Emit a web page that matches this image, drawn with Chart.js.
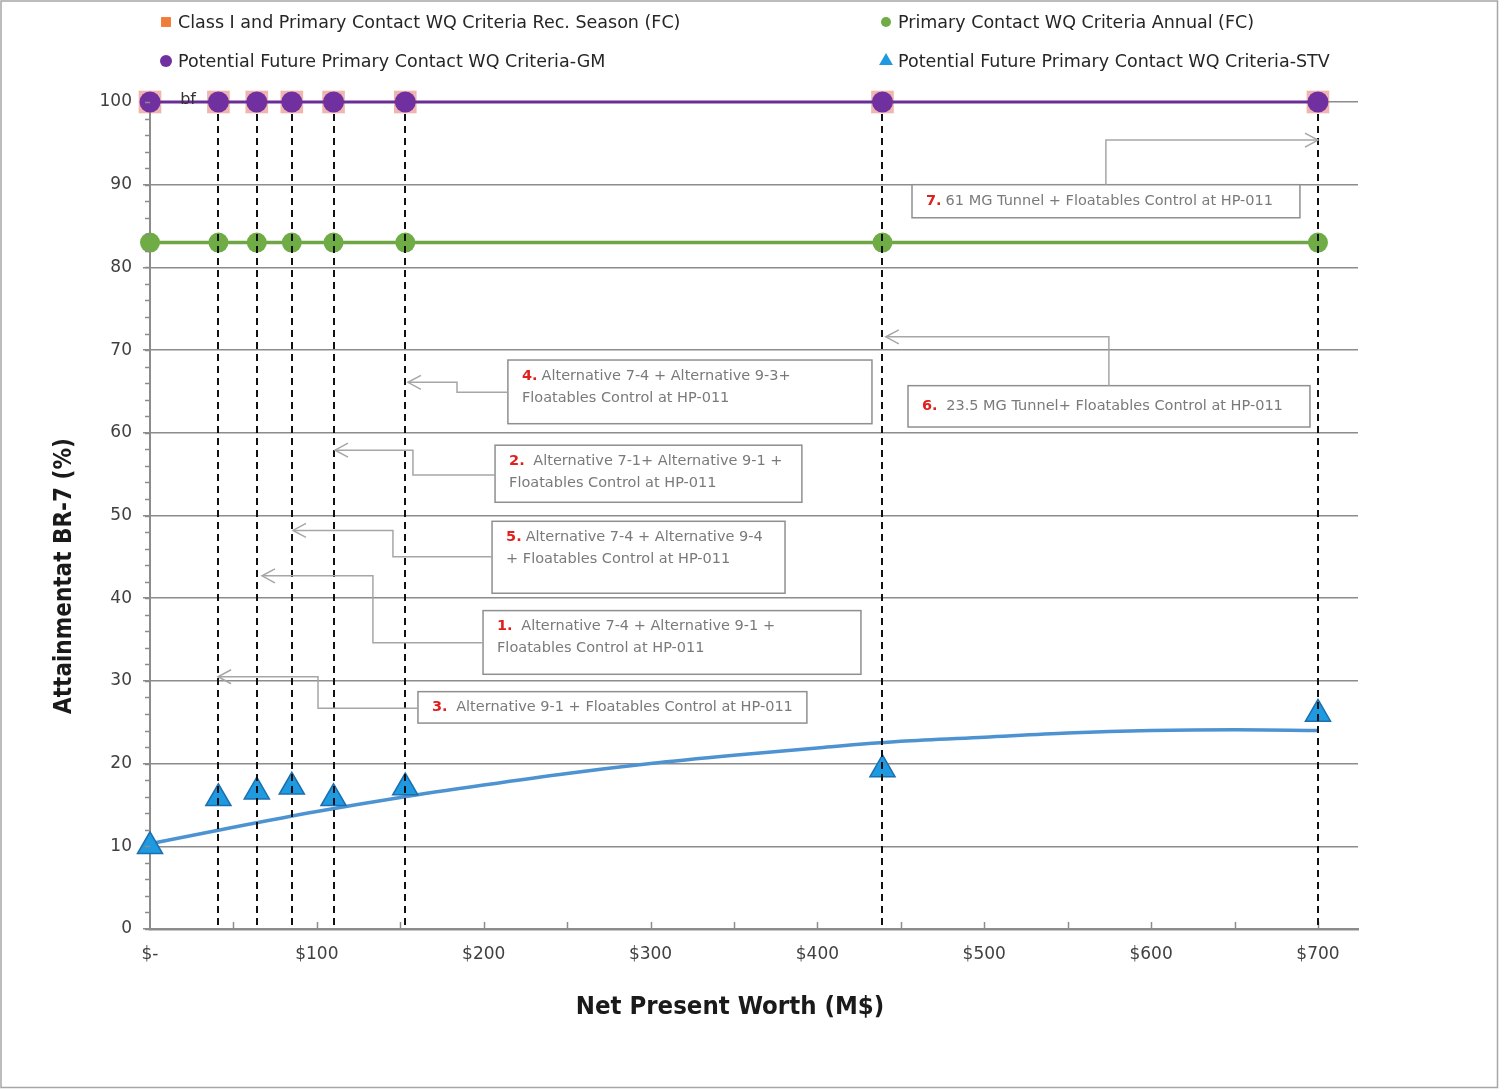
<!DOCTYPE html>
<html>
<head>
<meta charset="utf-8">
<title>Attainment at BR-7 vs Net Present Worth</title>
<script src="https://cdn.jsdelivr.net/npm/chart.js@4.4.1/dist/chart.umd.min.js"></script>
<style>
  html, body { margin: 0; padding: 0; background: #fff; }
  #wrap { width: 1499px; height: 1089px; }
</style>
</head>
<body>
<div id="wrap"><canvas id="chart"></canvas></div>
<script>
// ===== DATA =====
const npw = [0, 41, 64, 85, 110, 153, 439, 700];          // Net Present Worth (M$)
const recSeason = [100, 100, 100, 100, 100, 100, 100, 100];
const annual = [83, 83, 83, 83, 83, 83, 83, 83];
const futureGM = [100, 100, 100, 100, 100, 100, 100, 100];
const futureSTV = [10.0, 15.8, 16.6, 17.2, 15.8, 17.1, 19.3, 26.0];
const trendX = [0, 50, 100, 150, 200, 250, 300, 350, 400, 450, 500, 550, 600, 650, 700];
const trendY = [10.3, 12.3, 14.2, 15.9, 17.4, 18.8, 20.0, 21.0, 21.9, 22.7, 23.2, 23.7, 24.0, 24.1, 24.0];
const xTicks = [0, 100, 200, 300, 400, 500, 600, 700];
const yTicks = [0, 10, 20, 30, 40, 50, 60, 70, 80, 90, 100];
const seriesNames = [
  "Class I and Primary Contact WQ Criteria Rec. Season (FC)",
  "Primary Contact WQ Criteria Annual (FC)",
  "Potential Future Primary Contact WQ Criteria-GM",
  "Potential Future Primary Contact WQ Criteria-STV"
];

// callout boxes: box = [x1, yTop, x2, yBottom] in data units, path ends at the arrow tip
const notes = [
  { num: "7.", lines: ["61 MG Tunnel + Floatables Control at HP-011"], box: [456.7, 90.0, 689.2, 86.0],
    path: [[572.9, 90.0], [572.9, 95.4], [700, 95.4]] },
  { num: "6.", lines: [" 23.5 MG Tunnel+ Floatables Control at HP-011"], box: [454.3, 65.7, 695.2, 60.7],
    path: [[574.7, 65.7], [574.7, 71.6], [441, 71.6]] },
  { num: "4.", lines: ["Alternative 7-4 + Alternative 9-3+", "Floatables Control at HP-011"], box: [214.5, 68.8, 432.7, 61.1],
    path: [[214.5, 64.9], [184, 64.9], [184, 66.1], [154.6, 66.1]] },
  { num: "2.", lines: [" Alternative 7-1+ Alternative 9-1 +", "Floatables Control at HP-011"], box: [206.8, 58.5, 390.7, 51.6],
    path: [[206.8, 54.9], [157.6, 54.9], [157.6, 57.9], [110.9, 57.9]] },
  { num: "5.", lines: ["Alternative 7-4 + Alternative 9-4", "+ Floatables Control at HP-011"], box: [205, 49.3, 380.6, 40.6],
    path: [[205, 45.0], [145.6, 45.0], [145.6, 48.2], [85.7, 48.2]] },
  { num: "1.", lines: [" Alternative 7-4 + Alternative 9-1 +", "Floatables Control at HP-011"], box: [199.6, 38.5, 426.1, 30.8],
    path: [[199.6, 34.6], [133.6, 34.6], [133.6, 42.7], [67.1, 42.7]] },
  { num: "3.", lines: [" Alternative 9-1 + Floatables Control at HP-011"], box: [160.6, 28.7, 393.7, 24.9],
    path: [[160.6, 26.7], [100.7, 26.7], [100.7, 30.5], [40.8, 30.5]] }
];

const pts = (xs, ys) => xs.map((x, i) => ({ x: x, y: ys[i] }));
const FONT = "'DejaVu Sans', sans-serif";
const FONT_C = "'DejaVu Sans Condensed', 'DejaVu Sans', sans-serif";

// ===== EXTRA DRAWING (legend, drop lines, callouts, titles) =====
const extras = {
  id: "extras",
  afterDatasetsDraw(chart) {
    const ctx = chart.ctx;
    const xs = chart.scales.x, ys = chart.scales.y;
    const area = chart.chartArea;
    ctx.save();

    // minor tick marks
    ctx.strokeStyle = "#8c8c8c";
    ctx.lineWidth = 1.5;
    for (let v = 0; v <= 100; v += 2) {
      const y = Math.round(ys.getPixelForValue(v)) + 0.5;
      ctx.beginPath(); ctx.moveTo(area.left - 5, y); ctx.lineTo(area.left, y); ctx.stroke();
    }
    for (let v = 50; v <= 700; v += 50) {
      const x = Math.round(xs.getPixelForValue(v)) + 0.5;
      ctx.beginPath(); ctx.moveTo(x, area.bottom - 7); ctx.lineTo(x, area.bottom + 1); ctx.stroke();
    }

    // drop lines
    ctx.strokeStyle = "#111";
    ctx.lineWidth = 2;
    ctx.setLineDash([7, 5]);
    npw.forEach((v, i) => {
      if (v === 0) return;
      const x = Math.round(xs.getPixelForValue(v));
      ctx.beginPath();
      ctx.moveTo(x, ys.getPixelForValue(futureGM[i]) + 12);
      ctx.lineTo(x, area.bottom);
      ctx.stroke();
    });
    ctx.setLineDash([]);

    // callouts
    notes.forEach(n => {
      const x1 = xs.getPixelForValue(n.box[0]), y1 = ys.getPixelForValue(n.box[1]);
      const x2 = xs.getPixelForValue(n.box[2]), y2 = ys.getPixelForValue(n.box[3]);
      ctx.fillStyle = "#fff";
      ctx.fillRect(x1, y1, x2 - x1, y2 - y1);
      ctx.strokeStyle = "#8f8f8f";
      ctx.lineWidth = 1.5;
      ctx.strokeRect(x1, y1, x2 - x1, y2 - y1);

      ctx.strokeStyle = "#a6a6a6";
      ctx.lineWidth = 1.5;
      ctx.beginPath();
      n.path.forEach((p, i) => {
        const px = xs.getPixelForValue(p[0]), py = ys.getPixelForValue(p[1]);
        if (i === 0) ctx.moveTo(px, py); else ctx.lineTo(px, py);
      });
      ctx.stroke();
      const a = n.path[n.path.length - 1], b = n.path[n.path.length - 2];
      const ax = xs.getPixelForValue(a[0]), ay = ys.getPixelForValue(a[1]);
      const dir = xs.getPixelForValue(a[0]) > xs.getPixelForValue(b[0]) ? -1 : 1;
      ctx.beginPath();
      ctx.moveTo(ax + dir * 13, ay - 7);
      ctx.lineTo(ax, ay);
      ctx.lineTo(ax + dir * 13, ay + 7);
      ctx.stroke();

      ctx.textBaseline = "middle";
      ctx.textAlign = "left";
      const tx = x1 + 14;
      let ty = n.lines.length === 1 ? (y1 + y2) / 2 : y1 + 16;
      n.lines.forEach((line, i) => {
        let x = tx;
        ctx.font = "14.5px " + FONT;
        if (i === 0) {
          ctx.font = "bold 14.5px " + FONT;
          ctx.fillStyle = "#e0201c";
          ctx.fillText(n.num, x, ty);
          x += ctx.measureText(n.num).width + 4;
          ctx.font = "14.5px " + FONT;
        }
        ctx.fillStyle = "#7a7a7a";
        ctx.fillText(line, x, ty);
        ty += 22;
      });
    });

    // stray label
    ctx.font = "16px " + FONT;
    ctx.fillStyle = "#333";
    ctx.textAlign = "center";
    ctx.textBaseline = "middle";
    ctx.fillText("bf", xs.getPixelForValue(22.8), ys.getPixelForValue(100) - 2);
    ctx.restore();
  },
  afterDraw(chart) {
    const ctx = chart.ctx;
    ctx.save();
    // legend (2 columns)
    const slots = [[166, 22], [886, 22], [166, 61], [886, 61]];
    ctx.font = "17.5px " + FONT;
    ctx.textBaseline = "middle";
    ctx.textAlign = "left";
    seriesNames.forEach((name, i) => {
      const ds = chart.data.datasets[i];
      const [x, y] = slots[i];
      ctx.fillStyle = ds.legendColor || ds.pointBackgroundColor;
      ctx.strokeStyle = ds.legendColor || ds.pointBackgroundColor;
      Chart.helpers.drawPoint(ctx, { pointStyle: ds.pointStyle, radius: ds.legendRadius, rotation: 0, borderWidth: 0 }, x, y);
      ctx.fillStyle = "#262626";
      ctx.fillText(name, x + 12, y + 1);
    });

    // axis titles
    ctx.fillStyle = "#1a1a1a";
    ctx.textAlign = "center";
    ctx.font = "bold 25.5px " + FONT_C;
    ctx.fillText("Net Present Worth (M$)", 730, 1007);
    ctx.translate(65, 576);
    ctx.rotate(-Math.PI / 2);
    ctx.font = "bold 24px " + FONT_C;
    ctx.fillText("Attainmentat BR-7 (%)", 0, 0);
    ctx.restore();

    // frame
    ctx.save();
    ctx.strokeStyle = "#a6a6a6";
    ctx.lineWidth = 1.5;
    ctx.strokeRect(1, 1, chart.width - 2.5, chart.height - 2.5);
    ctx.restore();
  }
};

// ===== CHART =====
const ctx = document.getElementById("chart");
new Chart(ctx, {
  type: "scatter",
  data: {
    datasets: [
      {
        label: seriesNames[0],
        data: pts(npw, recSeason),
        showLine: false,
        pointStyle: "rect",
        pointRadius: 16,
        pointBackgroundColor: "rgba(226, 120, 110, 0.55)",
        pointBorderWidth: 0,
        legendColor: "#f07c3a",
        legendRadius: 7,
        order: 5,
        clip: false
      },
      {
        label: seriesNames[1],
        data: pts(npw, annual),
        showLine: true,
        borderColor: "#6fa544",
        borderWidth: 3.5,
        pointStyle: "circle",
        pointRadius: 10,
        pointBackgroundColor: "#6fac46",
        pointBorderColor: "#6fac46",
        pointBorderWidth: 0,
        legendRadius: 5,
        order: 4,
        clip: false
      },
      {
        label: seriesNames[2],
        data: pts(npw, futureGM),
        showLine: true,
        borderColor: "#6b2d95",
        borderWidth: 3,
        pointStyle: "circle",
        pointRadius: 10.5,
        pointBackgroundColor: "#7030a0",
        pointBorderColor: "#7030a0",
        pointBorderWidth: 0,
        legendRadius: 6,
        order: 3,
        clip: false
      },
      {
        label: seriesNames[3],
        data: pts(npw, futureSTV),
        showLine: false,
        pointStyle: "triangle",
        pointRadius: 14.5,
        pointBackgroundColor: "#1f9ae0",
        pointBorderColor: "#1b6fae",
        pointBorderWidth: 1.5,
        legendRadius: 8,
        order: 0,
        clip: false
      },
      {
        label: "trend",
        data: pts(trendX, trendY),
        showLine: true,
        borderColor: "#4d93d2",
        borderWidth: 3.5,
        cubicInterpolationMode: "monotone",
        pointRadius: 0,
        order: 1,
        clip: false
      }
    ]
  },
  options: {
    responsive: true,
    maintainAspectRatio: false,
    animation: false,
    layout: { padding: { top: 102, right: 141, bottom: 0, left: 0 } },
    plugins: { legend: { display: false }, tooltip: { enabled: false } },
    scales: {
      x: {
        type: "linear",
        min: 0,
        max: 724,
        afterFit: s => { s.height = 160; },
        afterBuildTicks: s => { s.ticks = xTicks.map(v => ({ value: v })); },
        grid: { display: false },
        border: { display: true, color: "#8c8c8c", width: 2.5 },
        ticks: {
          color: "#404040",
          font: { family: FONT, size: 17 },
          padding: 7,
          maxRotation: 0,
          callback: v => v === 0 ? "$-" : "$" + v
        }
      },
      y: {
        min: 0,
        max: 100,
        afterFit: s => { s.width = 150; },
        afterBuildTicks: s => { s.ticks = yTicks.map(v => ({ value: v })); },
        grid: { color: "#8c8c8c", lineWidth: 1.5, tickLength: 7, drawTicks: true },
        border: { display: true, color: "#8c8c8c", width: 2 },
        ticks: {
          color: "#404040",
          font: { family: FONT, size: 17 },
          padding: 11
        }
      }
    }
  },
  plugins: [extras]
});
</script>
</body>
</html>
